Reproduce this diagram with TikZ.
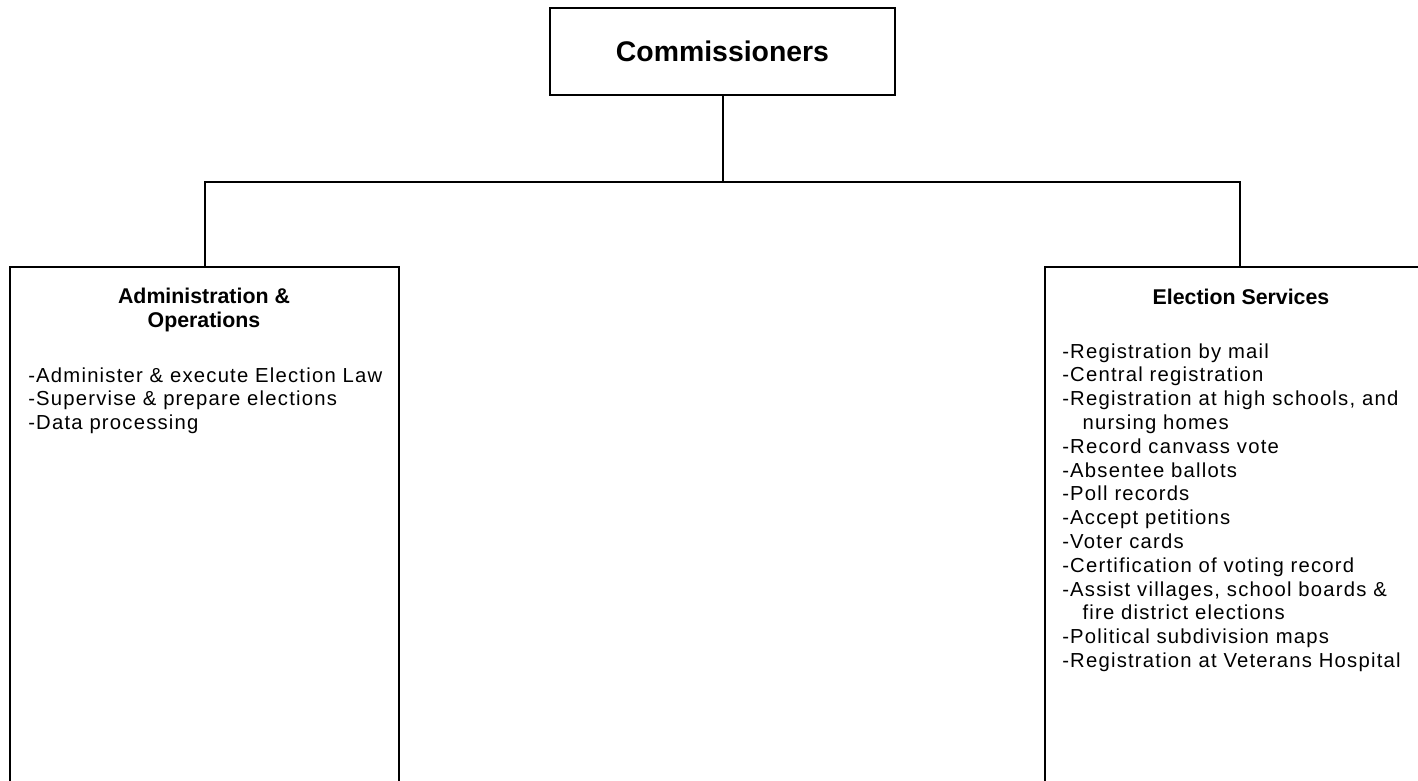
\documentclass[tikz,border=0pt]{standalone}
\usepackage{fontspec}
\setmainfont{Liberation Sans}
\newfontfamily\itemfont[LetterSpace=6]{Liberation Sans}
\begin{document}
\begin{tikzpicture}[x=0.75pt,y=-0.75pt,
  orgbox/.style={draw=black,line width=1.3pt,rectangle,inner sep=0pt,fill=white},
  conn/.style={draw=black,line width=1.5pt},
  headtext/.style={font=\fontsize{16}{18}\selectfont\bfseries,align=center,inner sep=0pt,anchor=base},
  itemtext/.style={font=\itemfont\fontsize{15.2}{17.85}\selectfont,align=left,inner sep=0pt,anchor=base west}]
\useasboundingbox (0,0) rectangle (1418,781);
\fill[white] (0,0) rectangle (1418,781);
% boxes
\node[orgbox,minimum width=258.75pt,minimum height=65.25pt,
      font=\fontsize{21.3}{25}\selectfont\bfseries] (comm) at (722.5,51.5) {Commissioners};
\node[orgbox,minimum width=291.75pt,minimum height=399.75pt] (admin) at (204.5,533.5) {};
\node[orgbox,minimum width=292.5pt,minimum height=399.75pt] (elec) at (1240,533.5) {};
% connectors
\draw[conn] (comm.south) -- ++(0,86) coordinate (junc);
\draw[conn] (admin.north) |- (junc) -| (elec.north);
% texts (anchor base = baseline of the last line)
\node[headtext] (adminhead) at (204,327) {Administration \&\\Operations};
\node[itemtext] (adminitems) at (28,429.6) {-Administer \& execute Election Law\\-Supervise \& prepare elections\\-Data processing};
\node[headtext] (elechead) at (1241,304) {Election Services};
\node[itemtext] (elecitems) at (1062,667.4) {-Registration by mail\\
-Central registration\\
-Registration at high schools, and\\
\hspace*{1em}nursing homes\\
-Record canvass vote\\
-Absentee ballots\\
-Poll records\\
-Accept petitions\\
-Voter cards\\
-Certification of voting record\\
-Assist villages, school boards \&\\
\hspace*{1em}fire district elections\\
-Political subdivision maps\\
-Registration at Veterans Hospital};
\end{tikzpicture}
\end{document}
